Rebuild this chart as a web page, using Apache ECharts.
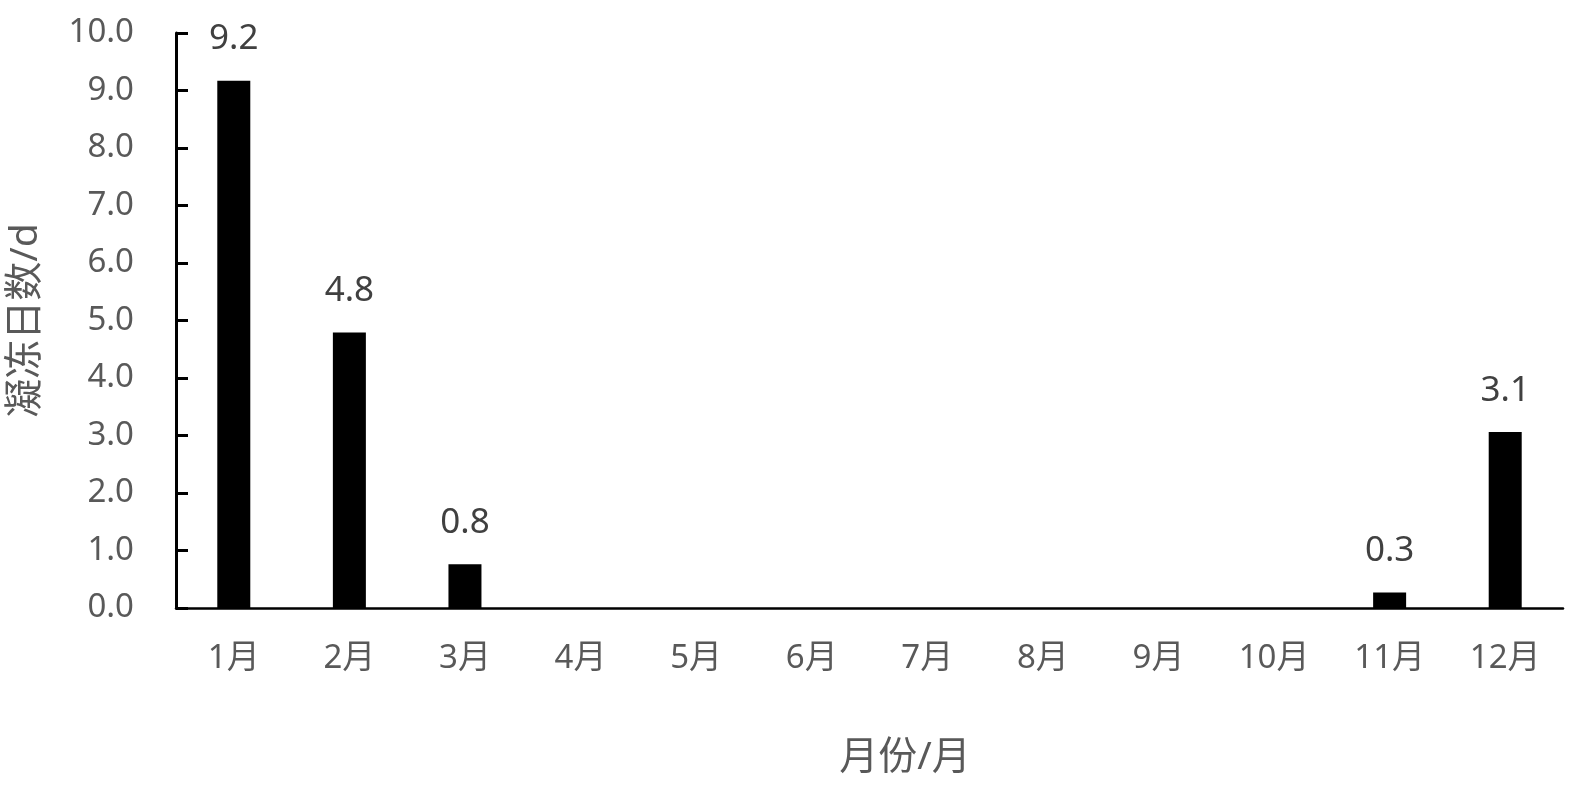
<!DOCTYPE html>
<html>
<head>
<meta charset="utf-8">
<script src="https://cdn.jsdelivr.net/npm/echarts@6/dist/echarts.min.js"></script>
<style>html,body{margin:0;padding:0;background:#fff;}#c{width:1571px;height:785px;}</style>
</head>
<body>
<div id="c"></div>
<script>
var categories = ['1月','2月','3月','4月','5月','6月','7月','8月','9月','10月','11月','12月'];
var values = [9.17, 4.79, 0.76, 0, 0, 0, 0, 0, 0, 0, 0.27, 3.06];
var yName = '凝冻日数/d';
var xName = '月份/月';
var FONT = '"Noto Sans", "Noto Sans CJK SC", sans-serif';

var chart = echarts.init(document.getElementById('c'));
chart.setOption({
  animation: false,
  backgroundColor: '#fff',
  grid: { left: 176, right: 8, top: 33, bottom: 177, containLabel: false, outerBoundsMode: 'none' },
  title: {
    text: xName, left: 900, top: 733, textAlign: 'center',
    textStyle: { fontFamily: FONT, fontSize: 39, fontWeight: 'normal', color: '#595959' }
  },
  xAxis: {
    type: 'category',
    data: categories,
    axisLine: { lineStyle: { color: '#000', width: 2.5 } },
    axisTick: { show: false },
    axisLabel: { color: '#595959', fontSize: 33, fontFamily: FONT, margin: 34 }
  },
  yAxis: {
    type: 'value',
    min: 0, max: 10, interval: 1,
    name: yName,
    nameLocation: 'middle',
    nameGap: 131,
    nameRotate: 90,
    nameTextStyle: { color: '#595959', fontSize: 39, fontFamily: FONT },
    axisLine: { show: true, lineStyle: { color: '#000', width: 3 } },
    axisTick: { show: true, inside: true, length: 12, lineStyle: { color: '#000', width: 3 } },
    splitLine: { show: false },
    axisLabel: {
      color: '#595959', fontSize: 33, fontFamily: FONT, margin: 42,
      formatter: function (v) { return v.toFixed(1); }
    }
  },
  series: [{
    type: 'bar',
    data: values,
    barWidth: 33,
    itemStyle: { color: '#000' },
    label: {
      show: true, position: 'top', distance: 24,
      color: '#404040', fontSize: 35, fontFamily: FONT,
      formatter: function (p) { return p.value > 0 ? p.value.toFixed(1) : ''; }
    }
  }]
});
</script>
</body>
</html>
